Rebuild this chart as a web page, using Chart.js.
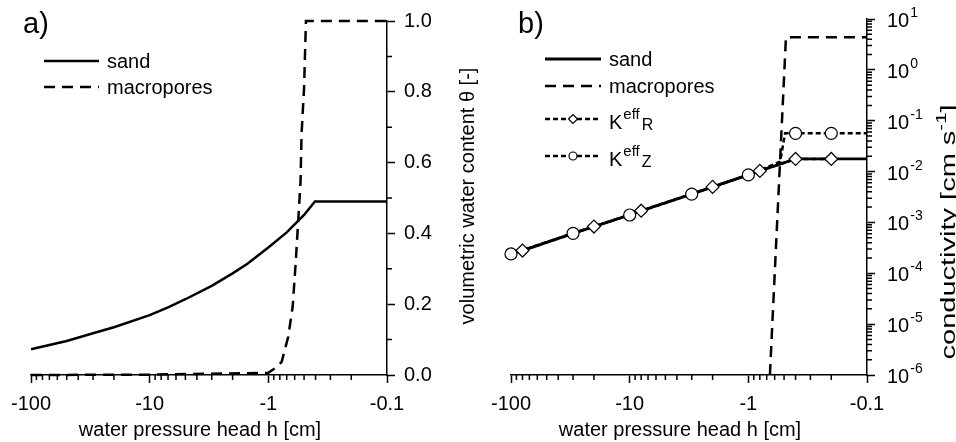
<!DOCTYPE html>
<html>
<head>
<meta charset="utf-8">
<title>Retention and conductivity curves</title>
<script src="https://cdn.jsdelivr.net/npm/chart.js@4.4.1/dist/chart.umd.min.js"></script>
<style>
  html, body { margin: 0; padding: 0; background: #fff; }
  #wrap { position: relative; width: 956px; height: 442px; overflow: hidden; }
  #wrap canvas { position: absolute; top: 0; }
</style>
</head>
<body>
<div id="wrap">
  <canvas id="chartTheta" width="478" height="442" style="left:0"></canvas>
  <canvas id="chartK" width="478" height="442" style="left:478px"></canvas>
</div>
<script>
// pressure head axis: |h| in cm, shown as negative values
const hTicks = [0.1, 0.2, 0.3, 0.4, 0.5, 0.6, 0.7, 0.8, 0.9, 1, 2, 3, 4, 5, 6, 7, 8, 9, 10, 20, 30, 40, 50, 60, 70, 80, 90, 100];
const hLabelled = [0.1, 1, 10, 100];
const thetaTicks = [0, 0.1, 0.2, 0.3, 0.4, 0.5, 0.6, 0.7, 0.8, 0.9, 1.0];
const kDecades = [1e-6, 1e-5, 1e-4, 1e-3, 1e-2, 1e-1, 1e0, 1e1];

// a) volumetric water content
const sandThetaH = [100, 70, 50, 30, 20, 10, 7, 5, 3, 2, 1.5, 1, 0.7, 0.5, 0.405, 0.1];
const sandTheta  = [0.073, 0.085, 0.096, 0.118, 0.135, 0.169, 0.191, 0.214, 0.252, 0.287, 0.314, 0.360, 0.403, 0.452, 0.49, 0.49];
const macroThetaH = [100, 10, 1, 0.88, 0.772, 0.68, 0.624, 0.589, 0.56, 0.535, 0.525, 0.5, 0.482, 0.1];
const macroTheta  = [0, 0.001, 0.006, 0.019, 0.037, 0.108, 0.192, 0.314, 0.435, 0.548, 0.68, 0.81, 1.0, 1.0];

// b) conductivity [cm/s]
const sandKH = [100, 80, 30, 20, 10, 8, 3, 2, 1, 0.8, 0.4, 0.1];
const sandK  = [2.4e-4, 2.8e-4, 6.1e-4, 8.3e-4, 1.4e-3, 1.7e-3, 3.6e-3, 5.0e-3, 8.6e-3, 1.03e-2, 1.77e-2, 1.77e-2];
const macroKH = [0.658, 0.482, 0.1];
const macroK  = [1e-6, 4.36, 4.36];
const kRH = [80, 20, 8, 2, 0.8, 0.4, 0.2];
const kR  = [2.8e-4, 8.3e-4, 1.7e-3, 5.0e-3, 1.03e-2, 1.77e-2, 1.77e-2];
const kZLineH = [100, 30, 10, 3, 1, 0.54, 0.49, 0.4, 0.2, 0.1];
const kZLine  = [2.4e-4, 6.1e-4, 1.4e-3, 3.6e-3, 8.6e-3, 1.56e-2, 5.65e-2, 5.65e-2, 5.65e-2, 5.65e-2];
const kZH = [100, 30, 10, 3, 1, 0.4, 0.2];
const kZ  = [2.4e-4, 6.1e-4, 1.4e-3, 3.6e-3, 8.6e-3, 5.65e-2, 5.65e-2];

const FONT = '"Liberation Sans", Arial, Helvetica, sans-serif';
Chart.defaults.font.family = FONT;
Chart.defaults.font.size = 20;
Chart.defaults.color = '#000';

const pts = (xs, ys) => xs.map((x, i) => ({ x, y: ys[i] }));

function textRuns(ctx, parts, x, y) {
    parts.forEach(p => {
        ctx.font = (p.size || 20) + 'px ' + FONT;
        ctx.fillText(p.t, x, y + (p.dy || 0));
        x += ctx.measureText(p.t).width + (p.gap || 0);
    });
}
function runsWidth(ctx, parts) {
    let w = 0;
    parts.forEach(p => { ctx.font = (p.size || 20) + 'px ' + FONT; w += ctx.measureText(p.t).width + (p.gap || 0); });
    return w;
}
function marker(ctx, style, x, y, r) {
    ctx.beginPath();
    if (style === 'rectRot') {
        ctx.moveTo(x - r, y); ctx.lineTo(x, y - r); ctx.lineTo(x + r, y); ctx.lineTo(x, y + r); ctx.closePath();
    } else {
        ctx.arc(x, y, r, 0, Math.PI * 2);
    }
    ctx.fill();
    ctx.stroke();
}

// minor ticks, panel letter, legend, axis titles, superscript labels
const panelDecor = {
    id: 'panelDecor',
    afterDraw(chart, args, o) {
        const { ctx, chartArea } = chart;
        const sx = chart.scales.x, sy = chart.scales.y;
        ctx.save();
        ctx.strokeStyle = '#000';
        ctx.fillStyle = '#000';
        ctx.lineWidth = 1.5;
        ctx.beginPath();
        sx.ticks.forEach(t => {
            if (t.major) return;
            const px = sx.getPixelForValue(t.value);
            ctx.moveTo(px, chartArea.bottom); ctx.lineTo(px, chartArea.bottom + 5);
        });
        sy.ticks.forEach(t => {
            if (t.major) return;
            const py = sy.getPixelForValue(t.value);
            ctx.moveTo(chartArea.right, py); ctx.lineTo(chartArea.right + 5, py);
        });
        ctx.stroke();

        ctx.textAlign = 'left';
        ctx.textBaseline = 'alphabetic';
        textRuns(ctx, [{ t: o.panel, size: 29 }], o.panelX, 33);

        // x title
        ctx.font = '20px ' + FONT;
        ctx.textAlign = 'center';
        ctx.fillText('water pressure head h [cm]', (chartArea.left + chartArea.right) / 2 - 9, 436);
        ctx.textAlign = 'left';

        // superscript decade labels
        if (o.expLabels) {
            kDecades.forEach(v => {
                const py = sy.getPixelForValue(v);
                textRuns(ctx, [{ t: '10', gap: 1 }, { t: String(Math.round(Math.log10(v))), size: 14, dy: -10 }], chartArea.right + 20, py + 8);
            });
        }

        // y title, reading bottom to top
        const yt = o.yTitle;
        ctx.save();
        ctx.translate(yt.x, yt.y);
        ctx.rotate(-Math.PI / 2);
        ctx.scale(yt.stretch || 1, 1);
        textRuns(ctx, yt.parts, -runsWidth(ctx, yt.parts) / 2, 0);
        ctx.restore();

        // legend
        const lg = o.legend;
        lg.rows.forEach(row => {
            const ds = chart.data.datasets[row.line];
            ctx.setLineDash(ds.borderDash || []);
            ctx.lineWidth = ds.borderWidth;
            ctx.strokeStyle = ds.borderColor;
            ctx.beginPath();
            ctx.moveTo(lg.x1, row.y); ctx.lineTo(lg.x2, row.y);
            ctx.stroke();
            ctx.setLineDash([]);
            if (row.marker != null) {
                const md = chart.data.datasets[row.marker];
                ctx.fillStyle = md.pointBackgroundColor;
                ctx.strokeStyle = md.pointBorderColor;
                ctx.lineWidth = md.pointBorderWidth;
                marker(ctx, md.pointStyle, (lg.x1 + lg.x2) / 2, row.y, row.r);
            }
            ctx.fillStyle = '#000';
            textRuns(ctx, row.parts, lg.tx, row.y + row.dy);
        });
        ctx.restore();
    }
};

const tickGrid = {
    drawOnChartArea: false, drawTicks: true, tickLength: 8, tickWidth: 1.5,
    tickColor: c => (c.tick && c.tick.major) ? '#000' : 'rgba(0,0,0,0)'
};
const axisBorder = { display: true, color: '#000', width: 1.5 };

function hAxis() {
    return {
        type: 'logarithmic', min: 0.1, max: 100, reverse: true, position: 'bottom',
        afterBuildTicks: s => { s.ticks = hTicks.map(v => ({ value: v, major: hLabelled.includes(v) })); },
        afterFit: s => { s.height = 67; },
        border: axisBorder,
        grid: tickGrid,
        ticks: { autoSkip: false, maxRotation: 0, padding: 9, callback: (v, i, t) => t[i].major ? '-' + v : '' }
    };
}

const baseOptions = { responsive: false, animation: false, events: [] };

new Chart(document.getElementById('chartTheta').getContext('2d'), {
    type: 'line',
    data: {
        datasets: [
            { label: 'sand', data: pts(sandThetaH, sandTheta), borderColor: '#000', borderWidth: 2.5, pointRadius: 0, tension: 0, clip: 5 },
            { label: 'macropores', data: pts(macroThetaH, macroTheta), borderColor: '#000', borderWidth: 2.5, borderDash: [11, 7], pointRadius: 0, tension: 0, clip: 5 }
        ]
    },
    options: {
        ...baseOptions,
        layout: { padding: { left: 31, top: 19, right: 0, bottom: 0 } },
        scales: {
            x: hAxis(),
            y: {
                type: 'linear', min: 0, max: 1, position: 'right',
                afterBuildTicks: s => { s.ticks = thetaTicks.map((v, i) => ({ value: v, major: i % 2 === 0 })); },
                afterFit: s => { s.width = 91; },
                border: axisBorder,
                grid: tickGrid,
                ticks: { autoSkip: false, padding: 9, callback: (v, i, t) => t[i].major ? v.toFixed(1) : '' }
            }
        },
        plugins: {
            legend: { display: false }, tooltip: { enabled: false },
            panelDecor: {
                panel: 'a)', panelX: 23,
                yTitle: { x: 474, y: 196, parts: [{ t: 'volumetric water content θ [-]' }] },
                legend: {
                    x1: 44, x2: 99, tx: 107,
                    rows: [
                        { line: 0, y: 61, dy: 7, parts: [{ t: 'sand' }] },
                        { line: 1, y: 87, dy: 7, parts: [{ t: 'macropores' }] }
                    ]
                }
            }
        }
    },
    plugins: [panelDecor]
});

const kTicks = [];
kDecades.forEach((d, i) => {
    if (i === kDecades.length - 1) { kTicks.push({ value: d, major: true }); return; }
    [1, 2, 3, 4, 5, 6, 7, 8, 9].forEach(m => kTicks.push({ value: m * d, major: m === 1 }));
});

new Chart(document.getElementById('chartK').getContext('2d'), {
    type: 'line',
    data: {
        datasets: [
            { label: 'KR points', data: pts(kRH, kR), showLine: false, pointStyle: 'rectRot', pointRadius: 6.5,
              pointBackgroundColor: '#fff', pointBorderColor: '#000', pointBorderWidth: 1.2, clip: 10 },
            { label: 'KZ points', data: pts(kZH, kZ), showLine: false, pointStyle: 'circle', pointRadius: 6,
              pointBackgroundColor: '#fff', pointBorderColor: '#000', pointBorderWidth: 1.2, clip: 10 },
            { label: 'sand', data: pts(sandKH, sandK), borderColor: '#000', borderWidth: 2.8, pointRadius: 0, tension: 0, clip: 5 },
            { label: 'macropores', data: pts(macroKH, macroK), borderColor: '#000', borderWidth: 2.5, borderDash: [11, 7], pointRadius: 0, tension: 0, clip: 5 },
            { label: 'KR', data: pts(kRH, kR), borderColor: '#000', borderWidth: 2.5, borderDash: [5, 3], pointRadius: 0, tension: 0, clip: 5 },
            { label: 'KZ', data: pts(kZLineH, kZLine), borderColor: '#000', borderWidth: 2.5, borderDash: [5, 3], pointRadius: 0, tension: 0, clip: 5 }
        ]
    },
    options: {
        ...baseOptions,
        layout: { padding: { left: 33, top: 19, right: 0, bottom: 0 } },
        scales: {
            x: hAxis(),
            y: {
                type: 'logarithmic', min: 1e-6, max: 10, position: 'right',
                afterBuildTicks: s => { s.ticks = kTicks.map(t => ({ ...t })); },
                afterFit: s => { s.width = 89; },
                border: axisBorder,
                grid: tickGrid,
                ticks: { autoSkip: false, callback: () => '' }
            }
        },
        plugins: {
            legend: { display: false }, tooltip: { enabled: false },
            panelDecor: {
                panel: 'b)', panelX: 40, expLabels: true,
                yTitle: { x: 477, y: 232, stretch: 1.45, parts: [{ t: 'conductivity [cm s' }, { t: '-1', size: 14, dy: -9 }, { t: ']' }] },
                legend: {
                    x1: 67, x2: 123, tx: 131,
                    rows: [
                        { line: 2, y: 59, dy: 7, parts: [{ t: 'sand' }] },
                        { line: 3, y: 86, dy: 7, parts: [{ t: 'macropores' }] },
                        { line: 4, marker: 0, r: 4.5, y: 119, dy: 10, parts: [{ t: 'K', gap: 1 }, { t: 'eff', size: 15, dy: -10, gap: 2 }, { t: 'R', size: 16, dy: 1 }] },
                        { line: 5, marker: 1, r: 4, y: 156, dy: 10, parts: [{ t: 'K', gap: 1 }, { t: 'eff', size: 15, dy: -10, gap: 2 }, { t: 'Z', size: 16, dy: 1 }] }
                    ]
                }
            }
        }
    },
    plugins: [panelDecor]
});
</script>
</body>
</html>
